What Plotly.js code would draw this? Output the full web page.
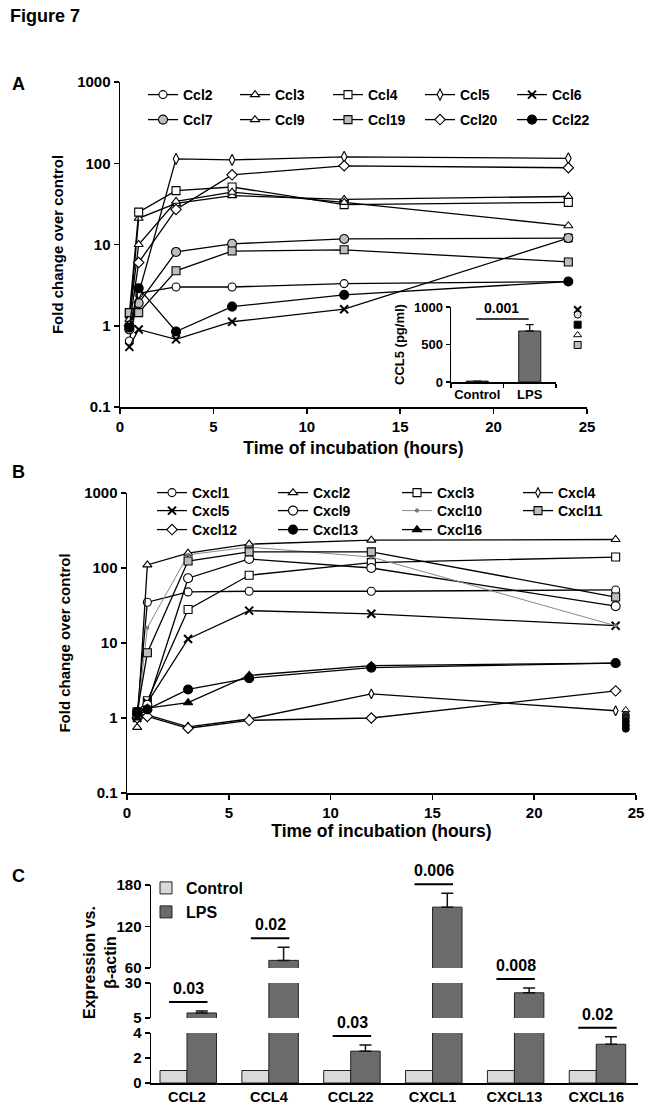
<!DOCTYPE html>
<html><head><meta charset="utf-8">
<script src="https://cdn.plot.ly/plotly-3.0.1.min.js"></script>
<style>html,body{margin:0;padding:0;background:#fff}#chart{width:653px;height:1111px}</style>
</head><body><div id="chart"></div>
<script>
// ---------------- DATA ----------------
// Panel A: chemokine (Ccl) fold change over control vs time
const hoursA = [0.5, 1, 3, 6, 12, 24];
const ccl2  = [0.65, 2.5, 3.0, 3.0, 3.3, 3.5];
const ccl3  = [1.1, 21, 32, 40, 36, 39];
const ccl4  = [1.4, 25, 46, 51, 31, 33];
const ccl5  = [1.0, 2.5, 113, 110, 120, 115];
const ccl6  = [0.55, 0.9, 0.68, 1.12, 1.6, 12];
const ccl7  = [0.9, 1.9, 8.1, 10.2, 11.7, 12];
const ccl9  = [1.2, 10, 34, 44, 33, 17];
const ccl19 = [1.45, 1.45, 4.75, 8.3, 8.6, 6.1];
const ccl20 = [1.0, 6, 27, 72, 93, 88];
const ccl22 = [0.95, 2.9, 0.85, 1.72, 2.4, 3.5];
const namesA = ['Ccl2','Ccl3','Ccl4','Ccl5','Ccl6','Ccl7','Ccl9','Ccl19','Ccl20','Ccl22'];
const valuesA = [ccl2, ccl3, ccl4, ccl5, ccl6, ccl7, ccl9, ccl19, ccl20, ccl22];
// stray markers drawn beside the 24 h column in panel A
const strayHourA = [24.5, 24.5, 24.5, 24.5, 24.5];
const strayValA  = [1.57, 1.37, 1.03, 0.77, 0.58];

// Panel A inset: CCL5 protein
const insetCats = ['Control', 'LPS'];
const insetVals = [12, 680];
const insetErr  = [0, 85];
const insetP    = '0.001';

// Panel B: Cxcl fold change over control vs time
const hoursB = [0.5, 1, 3, 6, 12, 24];
const cxcl1  = [1.1, 35, 48, 49, 49, 51];
const cxcl2  = [0.75, 110, 158, 208, 235, 240];
const cxcl3  = [1.2, 1.7, 28, 80, 118, 140];
const cxcl4  = [1.1, 1.1, 0.76, 0.97, 2.1, 1.25];
const cxcl5  = [1.0, 1.6, 11.3, 27, 24.5, 17];
const cxcl9  = [1.1, 1.5, 73, 132, 100, 31];
const cxcl10 = [1.0, 16, 150, 190, 140, 17];
const cxcl11 = [1.2, 7.4, 124, 164, 164, 41];
const cxcl12 = [1.0, 1.05, 0.73, 0.93, 1.0, 2.3];
const cxcl13 = [1.2, 1.3, 2.4, 3.4, 4.7, 5.4];
const cxcl16 = [1.0, 1.35, 1.6, 3.7, 5.0, 5.4];
const namesB = ['Cxcl1','Cxcl2','Cxcl3','Cxcl4','Cxcl5','Cxcl9','Cxcl10','Cxcl11','Cxcl12','Cxcl13','Cxcl16'];
const valuesB = [cxcl1, cxcl2, cxcl3, cxcl4, cxcl5, cxcl9, cxcl10, cxcl11, cxcl12, cxcl13, cxcl16];
const strayHourB = [24.5, 24.5, 24.5, 24.5, 24.5, 24.5];
const strayValB  = [1.28, 1.1, 1.0, 0.9, 0.8, 0.72];

// Panel C: expression vs beta-actin
const cCats   = ['CCL2','CCL4','CCL22','CXCL1','CXCL13','CXCL16'];
const ctrlVals = [1, 1, 1, 1, 1, 1];
const lpsVals  = [8.6, 71, 2.55, 148, 23, 3.1];
const lpsErr   = [1.4, 19, 0.5, 20, 3.5, 0.6];
const pVals    = ['0.03','0.02','0.03','0.006','0.008','0.02'];

const logTicks = [0.1, 1, 10, 100, 1000];
const logTickText = ['0.1', '1', '10', '100', '1000'];
const hourTicks = [0, 5, 10, 15, 20, 25];

// ---------------- STYLE / LAYOUT ----------------
const W = 653, H = 1111;
const FF = 'Liberation Sans, Arial, Helvetica, sans-serif';
const bold = (s) => ({family: FF, size: s, color: '#000', weight: 'bold'});
const px = (x) => x / W;
const py = (y) => 1 - y / H;
const GREY = '#bdbdbd';

const styleA = {
  Ccl2:  {symbol: 'circle', fill: '#fff', size: 8},
  Ccl3:  {symbol: 'triangle-up', fill: '#fff', size: 8},
  Ccl4:  {symbol: 'square', fill: '#fff', size: 8},
  Ccl5:  {symbol: 'diamond-tall', fill: '#fff', size: 8},
  Ccl6:  {symbol: 'x-thin-open', fill: '#000', size: 8, lw: 2},
  Ccl7:  {symbol: 'circle', fill: GREY, size: 9},
  Ccl9:  {symbol: 'triangle-up', fill: '#fff', size: 8},
  Ccl19: {symbol: 'square', fill: GREY, size: 8},
  Ccl20: {symbol: 'diamond', fill: '#fff', size: 8},
  Ccl22: {symbol: 'circle', fill: '#000', size: 9}
};
const styleB = {
  Cxcl1:  {symbol: 'circle', fill: '#fff', size: 8},
  Cxcl2:  {symbol: 'triangle-up', fill: '#fff', size: 8},
  Cxcl3:  {symbol: 'square', fill: '#fff', size: 8},
  Cxcl4:  {symbol: 'diamond-tall', fill: '#fff', size: 7},
  Cxcl5:  {symbol: 'x-thin-open', fill: '#000', size: 8, lw: 2},
  Cxcl9:  {symbol: 'circle', fill: '#fff', size: 9},
  Cxcl10: {symbol: 'circle', fill: '#777', size: 3, line: '#777', lc: '#888', lwid: 1},
  Cxcl11: {symbol: 'square', fill: GREY, size: 8},
  Cxcl12: {symbol: 'diamond', fill: '#fff', size: 8},
  Cxcl13: {symbol: 'circle', fill: '#000', size: 9},
  Cxcl16: {symbol: 'triangle-up', fill: '#000', size: 8}
};

// legend grid (pixel positions of each legend key start / row centre)
const legColsA = [148, 240, 333, 425, 517], legRowsA = [95, 120];
const legColsB = [157, 278, 402, 523], legRowsB = [493, 511, 530];
const legColC = 151, legRowsC = [888, 912];

const layout = {
  width: W, height: H, margin: {l: 0, r: 0, t: 0, b: 0, autoexpand: false},
  paper_bgcolor: '#fff', plot_bgcolor: 'rgba(0,0,0,0)', font: bold(13),
  showlegend: true, shapes: [], annotations: []
};
let legendCount = 0;
function newLegend(xPix, yPix, size) {
  legendCount++;
  const id = legendCount === 1 ? 'legend' : 'legend' + legendCount;
  layout[id] = {xref: 'paper', yref: 'paper', x: (xPix - 5) / W, y: py(yPix),
    xanchor: 'left', yanchor: 'middle', orientation: 'v', font: bold(size),
    bgcolor: 'rgba(0,0,0,0)', borderwidth: 0, itemclick: false, itemdoubleclick: false};
  return id;
}

const traces = [];
function lineTrace(name, x, y, st, xa, ya, legend) {
  const mk = {symbol: st.symbol, size: st.size, color: st.fill,
    line: {color: st.line || '#000', width: st.lw || 1.1}};
  return {type: 'scatter', mode: 'lines+markers', name: name, x: x, y: y,
    xaxis: xa, yaxis: ya, legend: legend, marker: mk,
    line: {color: st.lc || '#000', width: st.lwid || 1.3}, cliponaxis: false};
}
namesA.forEach((n, i) => {
  const lg = newLegend(legColsA[i % 5], legRowsA[Math.floor(i / 5)], 14);
  traces.push(lineTrace(n, hoursA, valuesA[i], styleA[n], 'x', 'y', lg));
});
traces.push({type: 'scatter', mode: 'markers', x: strayHourA, y: strayValA, xaxis: 'x', yaxis: 'y',
  showlegend: false, cliponaxis: false,
  marker: {symbol: ['x-thin-open', 'circle', 'square', 'triangle-up', 'square'],
    color: ['#000', '#ddd', '#000', '#fff', GREY], size: 7, line: {color: '#000', width: [2, 1, 1, 1, 1]}}});

namesB.forEach((n, i) => {
  const lg = newLegend(legColsB[i % 4], legRowsB[Math.floor(i / 4)], 14);
  traces.push(lineTrace(n, hoursB, valuesB[i], styleB[n], 'x3', 'y3', lg));
});
traces.push({type: 'scatter', mode: 'markers', x: strayHourB, y: strayValB, xaxis: 'x3', yaxis: 'y3',
  showlegend: false, cliponaxis: false,
  marker: {symbol: ['triangle-up', 'circle', 'circle', 'circle', 'circle', 'circle'],
    color: ['#fff', '#333', '#222', '#000', '#000', '#000'], size: 7, line: {color: '#000', width: 1}}});

// inset bars
traces.push({type: 'bar', x: insetCats, y: insetVals, xaxis: 'x2', yaxis: 'y2', showlegend: false,
  width: 0.42, marker: {color: '#6e6e6e', line: {color: '#111', width: 1}},
  error_y: {type: 'data', array: insetErr, symmetric: false, arrayminus: insetErr.map(() => 0),
    color: '#111', thickness: 1.3, width: 4}});

// panel C bars (broken axis = three stacked y axes)
const segAxes = ['y4', 'y5', 'y6'];
const lgCtrl = newLegend(legColC, legRowsC[0], 16);
const lgLps = newLegend(legColC, legRowsC[1], 16);
traces.push({type: 'bar', name: 'Control', x: cCats, y: ctrlVals, xaxis: 'x4', yaxis: 'y4',
  legend: lgCtrl, offset: -0.33, width: 0.33,
  marker: {color: '#d9d9d9', line: {color: '#222', width: 1}}});
segAxes.forEach((ya, k) => traces.push({type: 'bar', name: 'LPS', x: cCats, y: lpsVals,
  xaxis: 'x4', yaxis: ya, legend: lgLps, showlegend: k === 0, offset: 0, width: 0.36,
  marker: {color: '#6b6b6b', line: {color: '#222', width: 1}},
  error_y: {type: 'data', array: lpsErr, symmetric: false, arrayminus: lpsErr.map(() => 0),
    color: '#111', thickness: 1.5, width: 6}}));

// ---- axes ----
const baseAx = {showline: true, linecolor: '#000', linewidth: 1.5, ticks: 'outside',
  ticklen: 5, tickwidth: 1.5, tickcolor: '#000', showgrid: false, zeroline: false,
  tickfont: bold(15), fixedrange: true, automargin: false};

const segs = [ // broken axis segments for panel C: value range and pixel bottom/top
  {ax: 'yaxis4', lo: 0, hi: 4, pB: 1083, pT: 1033, ticks: [0, 2, 4]},
  {ax: 'yaxis5', lo: 5, hi: 30, pB: 1018, pT: 983, ticks: [5, 30]},
  {ax: 'yaxis6', lo: 60, hi: 180, pB: 968, pT: 885, ticks: [60, 120, 180]}
];

Object.assign(layout, {
  xaxis: Object.assign({}, baseAx, {domain: [px(120), px(587)], anchor: 'y', range: [0, 25],
    tickvals: hourTicks, title: {text: 'Time of incubation (hours)', font: bold(17.5), standoff: 8}}),
  yaxis: Object.assign({}, baseAx, {domain: [py(407), py(82)], anchor: 'x', type: 'log', range: [-1, 3],
    tickvals: logTicks, ticktext: logTickText, title: {text: 'Fold change over control', font: bold(15), standoff: 10}}),
  xaxis2: Object.assign({}, baseAx, {domain: [px(451), px(556)], anchor: 'y2', type: 'category',
    range: [-0.5, 1.5], tickson: 'boundaries', ticklen: 4, tickangle: 0, tickfont: bold(13)}),
  yaxis2: Object.assign({}, baseAx, {domain: [py(382), py(307)], anchor: 'x2', range: [0, 1000],
    tickvals: [0, 500, 1000], ticklen: 4, tickfont: bold(13),
    title: {text: 'CCL5 (pg/ml)', font: bold(13), standoff: 6}}),
  xaxis3: Object.assign({}, baseAx, {domain: [px(127), px(636)], anchor: 'y3', range: [0, 25],
    tickvals: hourTicks, title: {text: 'Time of incubation (hours)', font: bold(17.5), standoff: 4}}),
  yaxis3: Object.assign({}, baseAx, {domain: [py(793), py(493)], anchor: 'x3', type: 'log', range: [-1, 3],
    tickvals: logTicks, ticktext: logTickText, title: {text: 'Fold change over control', font: bold(15), standoff: 10}}),
  xaxis4: Object.assign({}, baseAx, {domain: [px(151), px(638)], anchor: 'y4', type: 'category',
    range: [-0.44, 5.51], ticks: '', tickangle: 0, tickfont: bold(14.5)})
});
segs.forEach(s => {
  layout[s.ax] = Object.assign({}, baseAx, {domain: [py(s.pB), py(s.pT)], anchor: 'x4',
    range: [s.lo, s.hi], tickvals: s.ticks, tickfont: bold(15)});
});

// convert a panel-C value to a pixel row using the broken-axis segments
function cPix(v) {
  for (const s of segs) if (v >= s.lo && v <= s.hi) return s.pB - (v - s.lo) / (s.hi - s.lo) * (s.pB - s.pT);
  for (let i = 0; i < segs.length - 1; i++) if (v > segs[i].hi && v < segs[i + 1].lo) return (segs[i].pT + segs[i + 1].pB) / 2;
  return segs[segs.length - 1].pT;
}
cCats.forEach((c, i) => {
  const lineY = cPix(lpsVals[i] + lpsErr[i]) - 9;
  layout.shapes.push({type: 'line', xref: 'x4', yref: 'paper', x0: i - 0.22, x1: i + 0.25,
    y0: py(lineY), y1: py(lineY), line: {color: '#000', width: 2}});
  layout.annotations.push({xref: 'x4', yref: 'paper', x: i + 0.02, y: py(lineY - 3), text: pVals[i],
    showarrow: false, yanchor: 'bottom', xanchor: 'center', font: bold(16)});
});
// inset significance bar
const insetTop = insetVals[1] + insetErr[1];
layout.shapes.push({type: 'line', xref: 'x2', yref: 'y2', x0: -0.02, x1: 0.98, y0: insetTop + 75, y1: insetTop + 75,
  line: {color: '#000', width: 1.5}});
layout.annotations.push({xref: 'x2', yref: 'y2', x: 0.47, y: insetTop + 95, text: insetP, showarrow: false,
  yanchor: 'bottom', xanchor: 'center', font: bold(14)});

// panel letters, figure title and C axis title
[['Figure 7', 8, 16, 18], ['A', 10, 84, 18], ['B', 10, 472, 18], ['C', 10, 876, 18]].forEach(t => {
  layout.annotations.push({xref: 'paper', yref: 'paper', x: px(t[1]), y: py(t[2]), text: t[0],
    showarrow: false, xanchor: 'left', yanchor: 'middle', font: bold(t[3])});
});
layout.annotations.push({xref: 'paper', yref: 'paper', x: px(100), y: py(962), text: 'Expression vs.<br>β-actin',
  showarrow: false, textangle: -90, xanchor: 'center', yanchor: 'middle', font: bold(16)});

Plotly.newPlot('chart', traces, layout, {staticPlot: true, displayModeBar: false});
</script></body></html>
